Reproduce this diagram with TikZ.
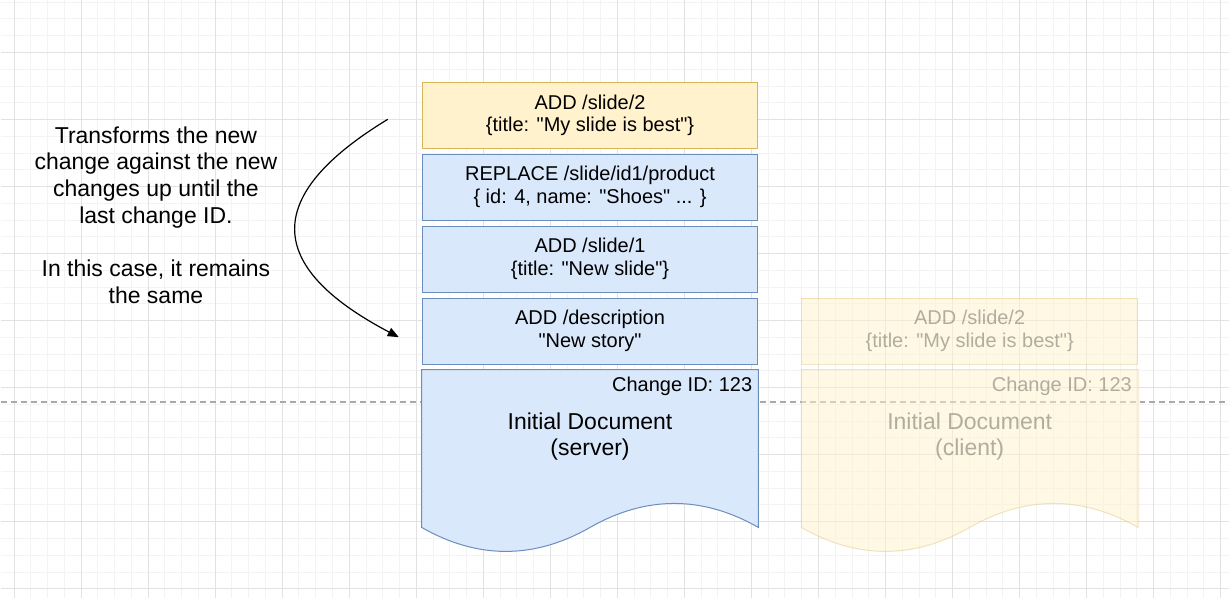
\documentclass[tikz,border=0pt]{standalone}
\usepackage{fontspec}
\setmainfont{Liberation Sans}[Ligatures=TeXOff]
\usepackage{xcolor}
\usetikzlibrary{positioning}
\usetikzlibrary{arrows.meta}

\definecolor{addfill}{HTML}{FFF2CC}
\definecolor{adddraw}{HTML}{D6B656}
\definecolor{opfill}{HTML}{DAE8FC}
\definecolor{opdraw}{HTML}{6C8EBF}
\definecolor{gridmaj}{HTML}{E2E2E2}
\definecolor{gridmin}{HTML}{F3F3F3}
\definecolor{sepgray}{HTML}{A9A9A9}

\begin{document}
\begin{tikzpicture}[x=1pt,y=-1pt,
	changebox/.style={rectangle,draw=opdraw,fill=opfill,line width=1pt,minimum width=336pt,minimum height=66pt,inner sep=0pt,align=center,font=\fontsize{20}{23}\selectfont},
	newchange/.style={changebox,draw=adddraw,fill=addfill},
	docshape/.style={rectangle,minimum width=336pt,minimum height=157pt,inner sep=0pt,outer sep=0.5pt},
	srvdoc/.style={draw=opdraw,fill=opfill,line width=1pt},
	clidoc/.style={draw=adddraw,fill=addfill,line width=1pt,faded},
	faded/.style={draw opacity=0.35,fill opacity=0.5,text opacity=0.3},
	sep/.style={sepgray,line width=1.2pt,dash pattern=on 6pt off 4pt},
	node distance=5pt]
		\def \gridX {13.4};
		\def \gridY {52};
		\def \minor {16.775};
		\def \major {67.1};
		\fill[white] (0,0) rectangle (1230,598);
		% grid
		\foreach \i in {0,...,72}
		{
			\draw[gridmin,line width=0.8pt] ({\gridX+\i*\minor},0) -- ++(0,598);
		}
		\foreach \i in {-3,...,32}
		{
			\draw[gridmin,line width=0.8pt] (0,{\gridY+\i*\minor}) -- ++(1230,0);
		}
		\foreach \i in {0,...,18}
		{
			\draw[gridmaj,line width=0.9pt] ({\gridX+\i*\major},0) -- ++(0,598);
		}
		\foreach \i in {0,...,8}
		{
			\draw[gridmaj,line width=0.9pt] (0,{\gridY+\i*\major}) -- ++(1230,0);
		}
		\coordinate (sepL) at (0,402);
		\coordinate (sepR) at (1230,402);
		\draw[sep] (sepL) -- (sepR);

		% server stack
		\node[newchange] (add2) at (590,115) {ADD /slide/2\\\{title: "My slide is best"\}};
		\node[changebox,below=of add2] (repl) {REPLACE /slide/id1/product\\\{ id: 4, name: "Shoes" ... \}};
		\node[changebox,below=of repl] (add1) {ADD /slide/1\\\{title: "New slide"\}};
		\node[changebox,below=of add1] (desc) {ADD /description\\"New story"};
		\node[docshape,below=of desc] (srv) {};

		% client stack
		\node[docshape,right=43pt of srv] (cli) {};
		\node[newchange,faded,above=of cli] (cliadd) {ADD /slide/2\\\{title: "My slide is best"\}};

		\foreach \d/\sty in {srv/srvdoc,cli/clidoc}
		{
			\draw[\sty] (\d.north west) -- (\d.north east) -- (\d.south east) .. controls +(-56,-32) and +(56,-32) .. (\d.south) .. controls +(-56,32) and +(56,32) .. (\d.south west) -- cycle;
		}
		\node[font=\fontsize{20}{23}\selectfont,anchor=base east,inner sep=0pt] (srvid) at ([xshift=-6pt,yshift=-22pt]srv.north east) {Change ID: 123};
		\node[font=\fontsize{23}{26}\selectfont,align=center] (srvname) at ([yshift=12pt]srv.center) {Initial Document\\(server)};
		\node[font=\fontsize{20}{23}\selectfont,anchor=base east,inner sep=0pt,text opacity=0.3] (cliid) at ([xshift=-6pt,yshift=-22pt]cli.north east) {Change ID: 123};
		\node[font=\fontsize{23}{26}\selectfont,align=center,text opacity=0.3] (cliname) at ([yshift=12pt]cli.center) {Initial Document\\(client)};

		% note and arrow
		\node[font=\fontsize{23}{26.7}\selectfont,align=center,anchor=north,inner sep=0pt] (note) at (155.5,126) {Transforms the new\\change against the new\\changes up until the\\last change ID.\\[26.7pt]In this case, it remains\\the same};
		\coordinate (arrS) at ([xshift=-34pt,yshift=-4pt]add2.west);
		\coordinate (arrE) at ([xshift=-23pt,yshift=-6pt]desc.west);
		\draw[-{Triangle[length=11pt,width=9pt]},line width=1.2pt] (arrS) .. controls +(-125,76) and +(-135,-71) .. (arrE);
\end{tikzpicture}
\end{document}
